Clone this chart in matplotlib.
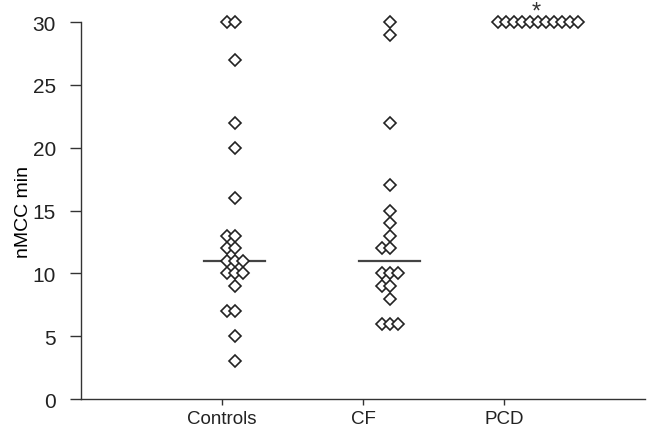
import numpy as np
import matplotlib.pyplot as plt

plt.rcParams['font.family'] = ['Liberation Sans', 'DejaVu Sans']

# values
groups = ['Controls', 'CF', 'PCD']
controls = [30, 30, 27, 22, 20, 16, 13, 13, 12, 12, 11, 11, 11, 10, 10, 10, 9, 7, 7, 5, 3]
cf = [30, 29, 22, 17, 15, 14, 13, 12, 12, 10, 10, 10, 9, 9, 8, 6, 6, 6]
pcd = [30] * 11
medians = [11, 11, None]

data = [controls, cf, pcd]
centers = [1.09, 2.19, 3.24]   # column centres, a bit right of the ticks
step = 0.057                   # sideways spacing for tied values

fig = plt.figure(figsize=(6.47, 4.27), dpi=100)
ax = fig.add_axes([0.125, 0.063, 0.872, 0.883])

for vals, cx in zip(data, centers):
    vals = np.array(vals)
    for v in np.unique(vals):
        n = np.sum(vals == v)
        xs = cx + (np.arange(n) - n // 2) * step
        ax.plot(xs, [v] * n, linestyle='none', marker='D', markersize=6.4,
                markerfacecolor='white', markeredgecolor='#222222',
                markeredgewidth=1.2, clip_on=False, zorder=3)

for m, cx in zip(medians, centers):
    if m is not None:
        ax.plot([cx - 0.215, cx + 0.215], [m, m], color='#444444', lw=1.6, zorder=2)

ax.text(centers[2] - 0.01, 30.8, '*', ha='center', va='center', fontsize=17, color='#333333')

ax.set_xlim(0, 4)
ax.set_ylim(0, 30)
ax.set_xticks([1, 2, 3])
ax.set_xticklabels(groups)
ax.set_yticks(range(0, 31, 5))
ax.set_ylabel('nMCC min', fontsize=14)
ax.yaxis.set_label_coords(-0.086, 0.5)

ax.spines['top'].set_visible(False)
ax.spines['right'].set_visible(False)
for s in ['left', 'bottom']:
    ax.spines[s].set_color('#333333')
    ax.spines[s].set_linewidth(1.0)
ax.tick_params(axis='y', length=8, width=1, colors='#333333', labelsize=15, pad=10)
ax.tick_params(axis='x', length=4, width=1, colors='#333333', labelsize=13.5, pad=4)
for lab in ax.get_xticklabels() + ax.get_yticklabels():
    lab.set_color('#222222')

fig.savefig('out.png', dpi=100)
